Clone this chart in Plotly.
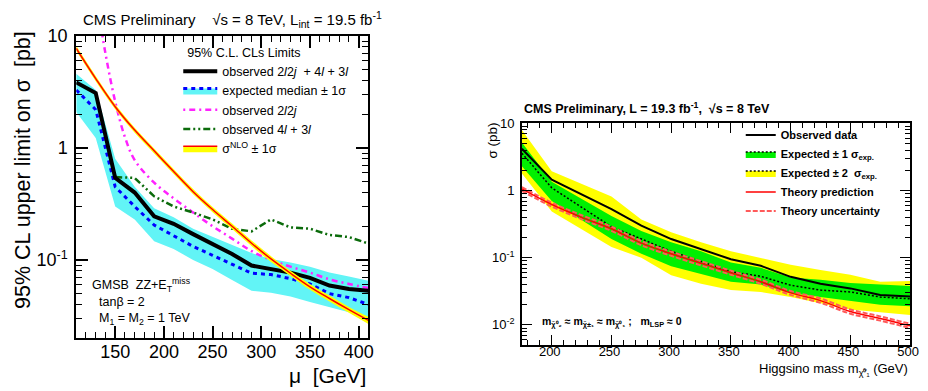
import plotly.graph_objects as go

W, H = 928, 391
FONT = "Liberation Sans, Arial, Helvetica, sans-serif"


def px(x):
    return x / W


def py(y):
    return 1 - y / H


# ---------------- Left panel: GMSB ZZ + MET limits ----------------
mu = [110, 130, 150, 170, 190, 210, 230, 250, 270, 290, 310, 330, 350, 370, 390, 410]
obs_comb = [3.85, 3.1, 0.54, 0.40, 0.245, 0.21, 0.17, 0.138, 0.113, 0.089, 0.083, 0.077, 0.069, 0.059, 0.055, 0.053]
exp_med = [3.3, 2.2, 0.45, 0.30, 0.205, 0.165, 0.132, 0.11, 0.092, 0.076, 0.074, 0.068, 0.061, 0.050, 0.046, 0.040]
exp_up = [4.6, 3.3, 0.80, 0.45, 0.29, 0.24, 0.19, 0.16, 0.135, 0.115, 0.102, 0.095, 0.087, 0.077, 0.071, 0.065]
exp_dn = [2.1, 1.23, 0.30, 0.23, 0.147, 0.125, 0.10, 0.083, 0.066, 0.053, 0.051, 0.047, 0.042, 0.038, 0.034, 0.030]

mu_2l2j = [130, 140, 150, 160, 170, 190, 210, 230, 250, 270, 290, 310, 330, 350, 370, 390, 410]
obs_2l2j = [24, 7.0, 2.6, 1.25, 0.78, 0.49, 0.355, 0.265, 0.2, 0.155, 0.12, 0.1, 0.087, 0.077, 0.067, 0.061, 0.056]

mu_ml = [150, 170, 190, 210, 230, 250, 270, 290, 310, 330, 350, 370, 390, 410]
obs_ml = [0.55, 0.54, 0.37, 0.30, 0.265, 0.23, 0.19, 0.18, 0.23, 0.195, 0.19, 0.167, 0.16, 0.14]

nlo = [7.76, 4.17, 2.34, 1.445, 0.944, 0.617, 0.407, 0.282, 0.2, 0.141, 0.102, 0.076, 0.0575, 0.0452, 0.0359, 0.0288]
nlo_hi = [8.2, 4.4, 2.46, 1.52, 0.99, 0.65, 0.43, 0.297, 0.211, 0.149, 0.108, 0.080, 0.061, 0.048, 0.038, 0.031]
nlo_lo = [7.35, 3.95, 2.22, 1.37, 0.895, 0.585, 0.386, 0.267, 0.189, 0.133, 0.096, 0.072, 0.054, 0.0425, 0.0337, 0.0268]

left_xticks = [150, 200, 250, 300, 350, 400]
left_yticks = [0.1, 1, 10]
left_yticktext = ["10<sup>-1</sup>", "1", "10"]

# ---------------- Right panel: Higgsino limits ----------------
mass = [175, 200, 250, 275, 300, 325, 350, 375, 400, 425, 450, 475, 500]
obs_h = [4.2, 1.45, 0.53, 0.30, 0.19, 0.135, 0.095, 0.076, 0.052, 0.041, 0.035, 0.028, 0.0265]
exp_h = [3.6, 1.1, 0.29, 0.19, 0.125, 0.088, 0.062, 0.053, 0.039, 0.033, 0.031, 0.026, 0.0245]
s1_up = [5.2, 1.35, 0.42, 0.25, 0.17, 0.125, 0.085, 0.071, 0.051, 0.047, 0.042, 0.040, 0.038]
s1_dn = [2.3, 0.70, 0.19, 0.115, 0.075, 0.057, 0.044, 0.040, 0.030, 0.026, 0.023, 0.020, 0.019]
s2_up = [8.0, 1.95, 0.82, 0.37, 0.24, 0.17, 0.125, 0.099, 0.079, 0.066, 0.056, 0.044, 0.045]
s2_dn = [1.8, 0.49, 0.145, 0.10, 0.055, 0.041, 0.033, 0.031, 0.026, 0.021, 0.017, 0.0155, 0.014]

theory_mass = [175, 200, 225, 250, 275, 300, 325, 350, 375, 400, 425, 450, 475, 500]
theory = [1.06, 0.62, 0.40, 0.27, 0.165, 0.115, 0.083, 0.06, 0.044, 0.030, 0.023, 0.0158, 0.0125, 0.0097]
theory_hi = [1.13, 0.66, 0.43, 0.29, 0.177, 0.123, 0.089, 0.064, 0.047, 0.032, 0.0247, 0.0170, 0.0134, 0.0104]
theory_lo = [0.99, 0.58, 0.375, 0.252, 0.154, 0.107, 0.077, 0.056, 0.041, 0.028, 0.0214, 0.0147, 0.0116, 0.0090]

right_xticks = [200, 250, 300, 350, 400, 450, 500]
right_yticks = [0.01, 0.1, 1, 10]
right_yticktext = ["10<sup>-2</sup>", "10<sup>-1</sup>", "1", "10"]

CYAN = "#62f4f6"
BLUE = "#0000ff"
MAGENTA = "#ff22ff"
DGREEN = "#0b6b0b"
YELLOW = "#ffff00"
GREEN = "#00f000"
RED = "#ff0000"
LRED = "#ff5a5a"

fig = go.Figure()

# ---- left traces (xaxis x, yaxis y) ----
nolg = dict(showlegend=False, hoverinfo="skip")
fig.add_trace(go.Scatter(x=mu, y=exp_up, mode="lines", line=dict(width=0, color=CYAN), **nolg))
fig.add_trace(go.Scatter(x=mu, y=exp_dn, mode="lines", line=dict(width=0, color=CYAN),
                         fill="tonexty", fillcolor=CYAN, **nolg))
fig.add_trace(go.Scatter(x=mu, y=exp_med, mode="lines", line=dict(color=BLUE, width=3, dash="4px,4px"), **nolg))
fig.add_trace(go.Scatter(x=mu_2l2j, y=obs_2l2j, mode="lines", line_shape="spline",
                         line=dict(color=MAGENTA, width=2.5, dash="2px,4px,6px,4px"),
                         name="observed 2<i>l</i>2<i>j</i>", legend="legend", legendrank=3))
fig.add_trace(go.Scatter(x=mu_ml, y=obs_ml, mode="lines",
                         line=dict(color=DGREEN, width=2.5, dash="7px,3px,2px,3px,2px,3px"),
                         name="observed 4<i>l</i> + 3<i>l</i>", legend="legend", legendrank=4))
fig.add_trace(go.Scatter(x=mu, y=obs_comb, mode="lines", line=dict(color="black", width=4),
                         name="observed 2<i>l</i>2<i>j</i>  + 4<i>l</i> + 3<i>l</i>", legend="legend", legendrank=1))
fig.add_trace(go.Scatter(x=mu, y=nlo_hi, mode="lines", line_shape="spline", line=dict(width=0, color=YELLOW), **nolg))
fig.add_trace(go.Scatter(x=mu, y=nlo_lo, mode="lines", line_shape="spline", line=dict(width=0, color=YELLOW),
                         fill="tonexty", fillcolor=YELLOW, **nolg))
fig.add_trace(go.Scatter(x=mu, y=nlo, mode="lines", line_shape="spline", line=dict(color=RED, width=1.5), **nolg))
# legend-only entries for band + line combos
fig.add_trace(go.Scatter(x=[None], y=[None], mode="lines", fill="toself", fillcolor=CYAN,
                         line=dict(color=BLUE, width=3, dash="4px,4px"),
                         name="expected median ± 1σ", legend="legend", legendrank=2))
fig.add_trace(go.Scatter(x=[None], y=[None], mode="lines", fill="toself", fillcolor=YELLOW,
                         line=dict(color=RED, width=1.5),
                         name="σ<sup>NLO</sup> ± 1σ", legend="legend", legendrank=5))

# ---- right traces (xaxis x2, yaxis y2) ----
r = dict(xaxis="x2", yaxis="y2")
fig.add_trace(go.Scatter(x=mass, y=s2_up, mode="lines", line=dict(width=0, color=YELLOW), **r, **nolg))
fig.add_trace(go.Scatter(x=mass, y=s2_dn, mode="lines", line=dict(width=0, color=YELLOW),
                         fill="tonexty", fillcolor=YELLOW, **r, **nolg))
fig.add_trace(go.Scatter(x=mass, y=s1_up, mode="lines", line=dict(width=0, color=GREEN), **r, **nolg))
fig.add_trace(go.Scatter(x=mass, y=s1_dn, mode="lines", line=dict(width=0, color=GREEN),
                         fill="tonexty", fillcolor=GREEN, **r, **nolg))
fig.add_trace(go.Scatter(x=mass, y=exp_h, mode="lines", line=dict(color="black", width=1.5, dash="2px,2px"), **r, **nolg))
fig.add_trace(go.Scatter(x=mass, y=obs_h, mode="lines", line=dict(color="black", width=2),
                         name="Observed data", legend="legend2", legendrank=1, **r))
fig.add_trace(go.Scatter(x=theory_mass, y=theory_hi, mode="lines", line_shape="spline",
                         line=dict(color=LRED, width=2, dash="5px,2px"),
                         name="Theory uncertainty", legend="legend2", legendrank=5, **r))
fig.add_trace(go.Scatter(x=theory_mass, y=theory_lo, mode="lines", line_shape="spline",
                         line=dict(color=LRED, width=2, dash="5px,2px"), **r, **nolg))
fig.add_trace(go.Scatter(x=theory_mass, y=theory, mode="lines", line_shape="spline",
                         line=dict(color=RED, width=1.5),
                         name="Theory prediction", legend="legend2", legendrank=4, **r))
fig.add_trace(go.Scatter(x=[None], y=[None], mode="lines", fill="toself", fillcolor=GREEN,
                         line=dict(color="black", width=1.5, dash="2px,2px"),
                         name="Expected ± 1 σ<sub>exp.</sub>", legend="legend2", legendrank=2, **r))
fig.add_trace(go.Scatter(x=[None], y=[None], mode="lines", fill="toself", fillcolor=YELLOW,
                         line=dict(color="black", width=1.5, dash="2px,2px"),
                         name="Expected ± 2  σ<sub>exp.</sub>", legend="legend2", legendrank=3, **r))

axis_common = dict(showline=True, linecolor="black", mirror="allticks", ticks="inside",
                   tickcolor="black", showgrid=False, zeroline=False)

fig.update_layout(
    width=W, height=H, margin=dict(l=0, r=0, t=0, b=0),
    paper_bgcolor="white", plot_bgcolor="white",
    font=dict(family=FONT, color="black"),
    xaxis=dict(domain=[px(77), px(372)], anchor="y", range=[110, 410],
               tickmode="array", tickvals=left_xticks,
               ticklen=12, tickwidth=1.5, linewidth=2,
               tickfont=dict(size=18), ticklabelstandoff=-4,
               minor=dict(dtick=10, tick0=0, ticks="inside", ticklen=6, tickwidth=1.2, tickcolor="black", showgrid=False),
               **axis_common),
    yaxis=dict(domain=[py(337), py(27.5)], anchor="x", type="log", range=[-1.70, 1.002],
               tickmode="array", tickvals=left_yticks, ticktext=left_yticktext,
               ticklen=12, tickwidth=1.5, linewidth=2,
               tickfont=dict(size=18), ticklabelstandoff=3,
               minor=dict(tickmode="array",
                          tickvals=[k * 10.0 ** e for e in (-2, -1, 0) for k in range(2, 10)],
                          ticks="inside", ticklen=6, tickwidth=1.2, tickcolor="black", showgrid=False),
               **axis_common),
    xaxis2=dict(domain=[px(527), px(919)], anchor="y2", range=[175, 500],
                tickmode="array", tickvals=right_xticks,
                ticklen=10, tickwidth=1.2, linewidth=1.5,
                tickfont=dict(size=13), ticklabelstandoff=-6, ticklabelshift=-2,
                minor=dict(dtick=10, tick0=0, ticks="inside", ticklen=5, tickwidth=1, tickcolor="black", showgrid=False),
                **axis_common),
    yaxis2=dict(domain=[py(344), py(117)], anchor="x2", type="log", range=[-2.30, 1.002],
                tickmode="array", tickvals=right_yticks, ticktext=right_yticktext,
                ticklen=10, tickwidth=1.2, linewidth=1.5,
                tickfont=dict(size=13), ticklabelstandoff=3,
                minor=dict(tickmode="array",
                           tickvals=[k * 10.0 ** e for e in (-3, -2, -1, 0) for k in range(2, 10)],
                           ticks="inside", ticklen=5, tickwidth=1, tickcolor="black", showgrid=False),
                **axis_common),
    legend=dict(x=px(180), y=py(32), xanchor="left", yanchor="top", bgcolor="rgba(0,0,0,0)",
                traceorder="normal",
                font=dict(size=12.5, family=FONT), itemwidth=34, tracegroupgap=0,
                title=dict(text="  95% C.L. CLs Limits", font=dict(size=12.5, family=FONT))),
    legend2=dict(x=px(748), y=py(114), xanchor="left", yanchor="top", bgcolor="rgba(0,0,0,0)",
                 traceorder="normal",
                 font=dict(size=11, family=FONT, weight="bold"), itemwidth=30, tracegroupgap=0),
)

ann = []
# titles
ann.append(dict(text="CMS Preliminary    √s = 8 TeV, L<sub>int</sub> = 19.5 fb<sup>-1</sup>",
                x=px(82), y=py(11), xanchor="left", yanchor="middle", font=dict(size=15)))
ann.append(dict(text="<b>CMS Preliminary, L = 19.3 fb<sup>-1</sup>,  √s = 8 TeV</b>",
                x=px(527), y=py(101), xanchor="left", yanchor="middle", font=dict(size=12.5)))
# axis titles
ann.append(dict(text="μ  [GeV]", x=px(372), y=py(375), xanchor="right", yanchor="middle", font=dict(size=21)))
ann.append(dict(text="95% CL upper limit on σ  [pb]", x=px(23), y=py(165), xanchor="center", yanchor="middle",
                textangle=-90, font=dict(size=21.5)))
ann.append(dict(text="Higgsino mass m<sub>χ̃⁰₁</sub> (GeV)", x=px(919), y=py(369), xanchor="right", yanchor="middle",
                font=dict(size=13)))
ann.append(dict(text="σ (pb)", x=px(497), y=py(114), xanchor="center", yanchor="top", textangle=-90,
                font=dict(size=13.5)))
# in-plot labels
ann.append(dict(text="GMSB  ZZ+E<sub>T</sub><sup>miss</sup>", x=px(91), y=py(283), xanchor="left", yanchor="middle",
                font=dict(size=12.5)))
ann.append(dict(text="tanβ = 2", x=px(98), y=py(300), xanchor="left", yanchor="middle", font=dict(size=12.5)))
ann.append(dict(text="M<sub>1</sub> = M<sub>2</sub> = 1 TeV", x=px(98), y=py(317), xanchor="left", yanchor="middle",
                font=dict(size=12.5)))
ann.append(dict(text="<b>m<sub>χ̃⁰₂</sub> ≈ m<sub>χ̃±₁</sub> ≈ m<sub>χ̃⁰₁</sub> ;   m<sub>LSP</sub> ≈ 0</b>",
                x=px(545), y=py(320), xanchor="left", yanchor="middle", font=dict(size=10.5)))
for a in ann:
    a.update(xref="paper", yref="paper", showarrow=False)
fig.update_layout(annotations=ann)

POST = ("document.body.style.margin='0';"
        "var gd=document.querySelector('.plotly-graph-div');"
        "gd.style.position='absolute';gd.style.top='0px';gd.style.left='0px';")
fig.write_html("out.html", config={"displayModeBar": False}, post_script=POST)
